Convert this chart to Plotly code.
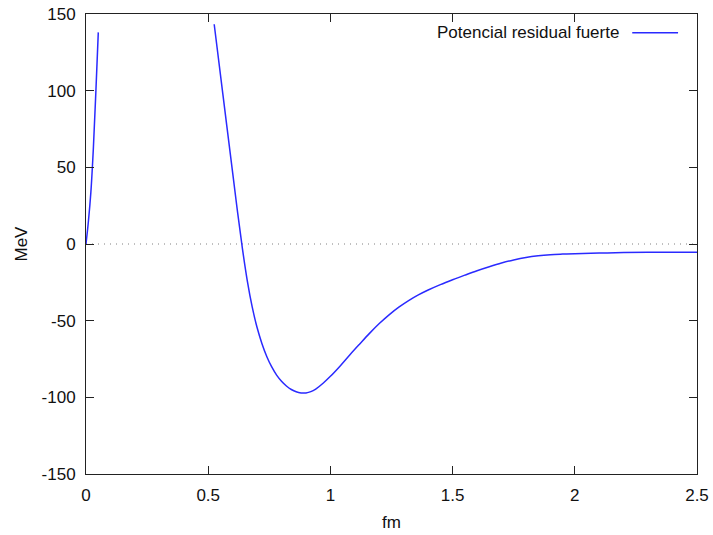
import plotly.graph_objects as go

# Distance (fm) and potential (MeV); None breaks the curve where it leaves the range
r_fm = [0.0, 0.01, 0.02, 0.03, 0.04, 0.0503,
        None,
        0.5245, 0.56, 0.60, 0.62, 0.64, 0.66, 0.68, 0.70, 0.72, 0.74, 0.76,
        0.78, 0.80, 0.82, 0.84, 0.86, 0.88, 0.90, 0.92, 0.94, 0.97, 1.00,
        1.04, 1.08, 1.12, 1.16, 1.20, 1.24, 1.28, 1.32, 1.36, 1.40, 1.45,
        1.50, 1.55, 1.60, 1.65, 1.70, 1.75, 1.80, 1.85, 1.90, 1.95, 2.00,
        2.10, 2.20, 2.35, 2.50]
v_mev = [0, 15, 34, 62, 98, 138,
         None,
         143.3, 97.8, 46.5, 21, -3, -24, -41, -54.5, -65, -73.5, -80.2,
         -85.5, -89.5, -92.6, -94.9, -96.4, -97.1, -97.1, -96.3, -94.6, -90.8, -86.3,
         -79.5, -72.2, -65.2, -58.3, -51.9, -46.2, -41.2, -36.9, -33.2, -30.0, -26.5,
         -23.3, -20.3, -17.4, -14.8, -12.4, -10.4, -8.8, -7.7, -7.0, -6.6, -6.3,
         -5.9, -5.6, -5.4, -5.3]

x_ticks = [0, 0.5, 1, 1.5, 2, 2.5]
x_labels = ["0", "0.5", "1", "1.5", "2", "2.5"]
y_ticks = [-150, -100, -50, 0, 50, 100, 150]
y_labels = ["-150", "-100", "-50", "0", "50", "100", "150"]
series_name = "Potencial residual fuerte"

FONT = "Liberation Sans, Arial, sans-serif"
TEXT = "#111111"
LINE_BLUE = "#2a2aff"
SIZE = 17

fig = go.Figure()
fig.add_trace(go.Scatter(
    x=r_fm, y=v_mev, mode="lines", name=series_name,
    line=dict(color=LINE_BLUE, width=1.5, shape="spline", smoothing=1.0),
    connectgaps=False, showlegend=False,
))

# Dotted zero reference line
fig.add_shape(type="line", xref="x", yref="y", x0=0, x1=2.5, y0=0, y1=0,
              line=dict(color="#808080", width=1, dash="1px,5px"), layer="below")

# Key: label followed by a line sample, top right inside the frame
fig.add_annotation(xref="paper", yref="paper", x=0.876, y=0.959,
                   text=series_name, showarrow=False, xanchor="right",
                   yanchor="middle", font=dict(family=FONT, size=SIZE, color=TEXT))
fig.add_shape(type="line", xref="paper", yref="paper", x0=0.894, x1=0.969,
              y0=0.959, y1=0.959, line=dict(color=LINE_BLUE, width=1.5))

axis_common = dict(
    showgrid=False, zeroline=False, showline=True, linecolor="#222222",
    linewidth=1, mirror="ticks", ticks="inside", ticklen=8, tickwidth=1,
    tickcolor="#222222", tickfont=dict(family=FONT, size=SIZE, color=TEXT),
    automargin=False,
)

fig.update_xaxes(range=[0, 2.5], tickvals=x_ticks, ticktext=x_labels,
                 ticklabelstandoff=6,
                 title=dict(text="fm", font=dict(family=FONT, size=SIZE, color=TEXT),
                            standoff=11),
                 **axis_common)
fig.update_yaxes(range=[-150, 150], tickvals=y_ticks, ticktext=y_labels,
                 ticklabelstandoff=6,
                 title=dict(text="MeV", font=dict(family=FONT, size=SIZE, color=TEXT),
                            standoff=9),
                 **axis_common)

fig.update_layout(
    width=713, height=535,
    margin=dict(l=86, r=16, t=14, b=61),
    plot_bgcolor="white", paper_bgcolor="white",
    font=dict(family=FONT, size=SIZE, color=TEXT),
)

fig.write_html("out.html")
